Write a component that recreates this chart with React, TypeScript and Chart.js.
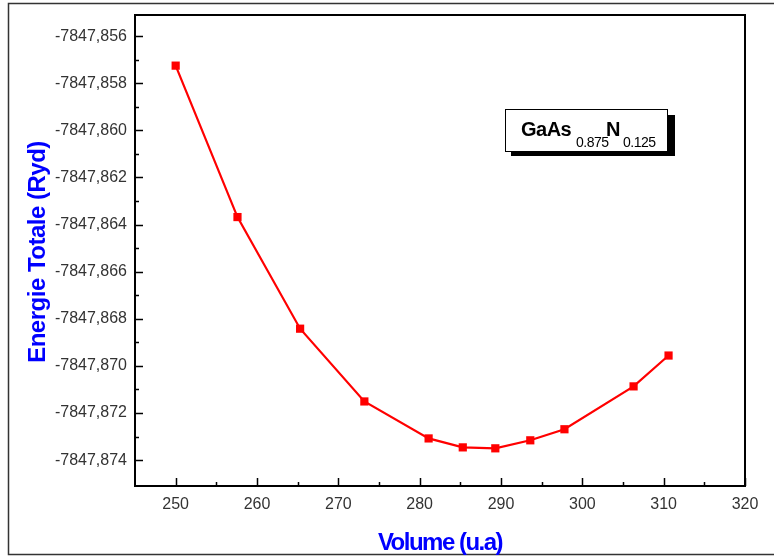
import React, { useEffect, useRef } from 'react';
import { Chart, registerables } from 'chart.js';

Chart.register(...registerables);

// ---- data ----
const volumes = [250.0, 257.6, 265.3, 273.2, 281.1, 285.3, 289.3, 293.6, 297.8, 306.3, 310.6];
const energies = [
  -7847.85725, -7847.86368, -7847.86842, -7847.87151, -7847.87308, -7847.87346,
  -7847.8735, -7847.87316, -7847.87269, -7847.87087, -7847.86956,
];
const xMajorTicks = [250, 260, 270, 280, 290, 300, 310, 320];
const xMinorTicks = [255, 265, 275, 285, 295, 305, 315];
const yMajorTicks = [
  -7847.856, -7847.858, -7847.86, -7847.862, -7847.864, -7847.866, -7847.868, -7847.87, -7847.872,
  -7847.874,
];
const yMinorTicks = [
  -7847.857, -7847.859, -7847.861, -7847.863, -7847.865, -7847.867, -7847.869, -7847.871,
  -7847.873,
];
const xTitle = 'Volume (u.a)';
const yTitle = 'Energie Totale (Ryd)';
const legendMain = ['GaAs', 'N'];
const legendSub = ['0.875', '0.125'];

const FONT = '"Liberation Sans", Arial, sans-serif';

const decor = {
  id: 'decor',
  afterDraw(chart: any) {
    const { ctx, chartArea: a, scales } = chart;
    const xs = scales.x;
    const ys = scales.y;
    ctx.save();
    // outer frame
    ctx.strokeStyle = '#333';
    ctx.lineWidth = 1.5;
    ctx.strokeRect(8.5, 3.5, 800, 551);
    // plot frame
    ctx.strokeStyle = '#000';
    ctx.lineWidth = 2;
    ctx.strokeRect(a.left, a.top, a.right - a.left, a.bottom - a.top);
    // ticks (inward)
    ctx.lineWidth = 1.5;
    ctx.beginPath();
    for (const v of xMajorTicks) {
      const px = Math.round(xs.getPixelForValue(v)) + 0.5;
      ctx.moveTo(px, a.bottom);
      ctx.lineTo(px, a.bottom - 8);
    }
    for (const v of xMinorTicks) {
      const px = Math.round(xs.getPixelForValue(v)) + 0.5;
      ctx.moveTo(px, a.bottom);
      ctx.lineTo(px, a.bottom - 4);
    }
    for (const v of yMajorTicks) {
      const py = Math.round(ys.getPixelForValue(v)) + 0.5;
      ctx.moveTo(a.left, py);
      ctx.lineTo(a.left + 8, py);
    }
    for (const v of yMinorTicks) {
      const py = Math.round(ys.getPixelForValue(v)) + 0.5;
      ctx.moveTo(a.left, py);
      ctx.lineTo(a.left + 4, py);
    }
    ctx.stroke();

    // axis titles
    ctx.fillStyle = '#0000ff';
    ctx.textBaseline = 'alphabetic';
    ctx.textAlign = 'center';
    ctx.font = `bold 24px ${FONT}`;
    (ctx as any).letterSpacing = '-1.5px';
    ctx.fillText(xTitle, (a.left + a.right) / 2, 550);
    ctx.save();
    ctx.translate(45, 252);
    ctx.rotate(-Math.PI / 2);
    (ctx as any).letterSpacing = '-0.5px';
    ctx.fillText(yTitle, 0, 0);
    ctx.restore();

    // legend box
    (ctx as any).letterSpacing = '0px';
    ctx.fillStyle = '#000';
    ctx.fillRect(511, 115, 164, 41);
    ctx.fillStyle = '#fff';
    ctx.fillRect(505, 109, 163, 43);
    ctx.strokeStyle = '#000';
    ctx.lineWidth = 1;
    ctx.strokeRect(505.5, 109.5, 162, 42);
    ctx.fillStyle = '#000';
    ctx.textAlign = 'left';
    (ctx as any).letterSpacing = '-0.5px';
    ctx.font = `bold 20px ${FONT}`;
    ctx.fillText(legendMain[0], 521, 136);
    ctx.fillText(legendMain[1], 606, 136);
    ctx.font = `14px ${FONT}`;
    ctx.fillText(legendSub[0], 576, 147);
    ctx.fillText(legendSub[1], 623, 147);
    ctx.restore();
  },
};

export default function App() {
  const ref = useRef<HTMLCanvasElement>(null);
  useEffect(() => {
    document.body.style.margin = '0';
    const canvas = ref.current!;
    const tickFont = { family: FONT, size: 16 };
    const chart = new Chart(canvas, {
      type: 'line',
      data: {
        datasets: [
          {
            data: volumes.map((v, i) => ({ x: v, y: energies[i] })),
            borderColor: '#ff0000',
            backgroundColor: '#ff0000',
            borderWidth: 2.2,
            pointStyle: 'rect',
            pointRadius: 5.8,
            pointBorderWidth: 0,
            tension: 0,
          },
        ],
      },
      options: {
        responsive: false,
        animation: false,
        devicePixelRatio: 1,
        layout: { padding: { top: 15, right: 29, left: 0, bottom: 0 } },
        plugins: { legend: { display: false }, tooltip: { enabled: false } },
        scales: {
          x: {
            type: 'linear',
            min: 245,
            max: 320,
            afterBuildTicks: (s: any) => {
              s.ticks = xMajorTicks.map((v) => ({ value: v }));
            },
            afterFit: (s: any) => {
              s.height = 71;
            },
            grid: { display: false },
            border: { display: false },
            ticks: {
              padding: 1,
              color: '#333',
              font: tickFont,
              maxRotation: 0,
              autoSkip: false,
              callback: (v: any) => String(v),
            },
          },
          y: {
            type: 'linear',
            min: -7847.8751,
            max: -7847.8551,
            afterBuildTicks: (s: any) => {
              s.ticks = yMajorTicks.map((v) => ({ value: v }));
            },
            afterFit: (s: any) => {
              s.width = 135;
            },
            grid: { display: false },
            border: { display: false },
            ticks: {
              padding: 0,
              color: '#333',
              font: tickFont,
              autoSkip: false,
              callback: (v: any) => Number(v).toFixed(3).replace('.', ','),
            },
          },
        },
      },
      plugins: [decor],
    } as any);
    return () => chart.destroy();
  }, []);
  return (
    <div style={{ width: 774, height: 557 }}>
      <canvas ref={ref} width={774} height={557} style={{ display: 'block' }} />
    </div>
  );
}
